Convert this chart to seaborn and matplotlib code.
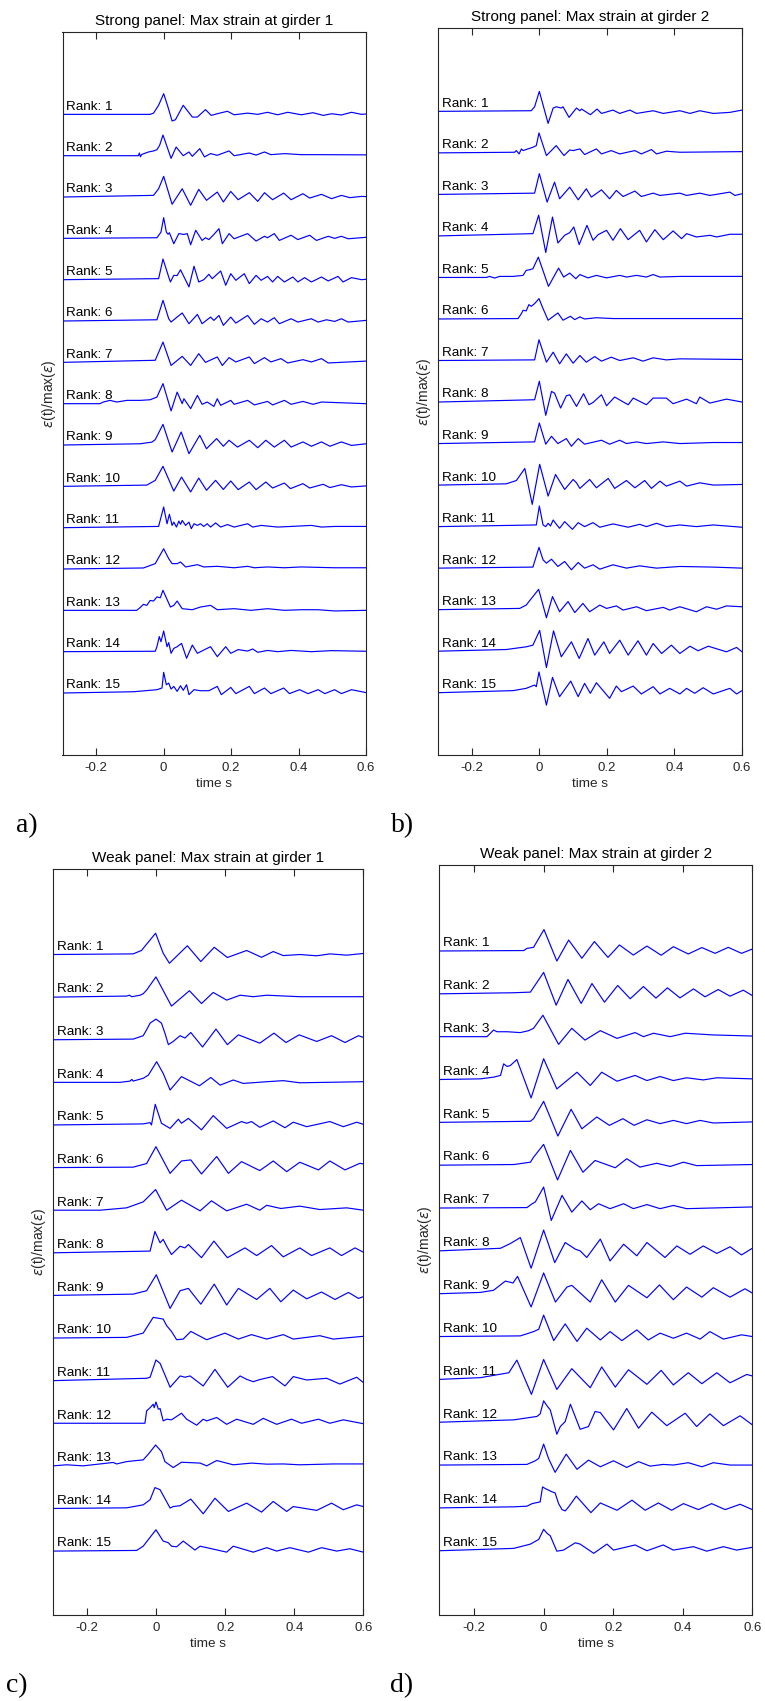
import matplotlib
matplotlib.use("Agg")
import matplotlib.pyplot as plt
import pandas as pd
import seaborn as sns

# Normalised strain traces eps(t)/max(eps) for the 15 highest-ranked events.
# Each trace is a list of (time in s, normalised strain) knots.

STRONG_G1 = [
    [(-0.3,0),(-0.04,0.0),(-0.03,0.06),(-0.015,0.44),(0,1.0),(0.012,0.4),(0.025,-0.32),(0.035,-0.26),(0.058,0.44),(0.085,-0.13),(0.10,-0.13),(0.124,0.23),(0.141,-0.05),(0.159,0.03),(0.189,0.15),(0.209,-0.02),(0.249,0.06),(0.279,0.0),(0.308,0.10),(0.338,-0.02),(0.368,0.10),(0.408,-0.02),(0.443,0.08),(0.473,-0.05),(0.498,0.03),(0.527,-0.03),(0.557,0.10),(0.587,0.0),(0.6,0.02)],
    [(-0.3,0),(-0.075,0.0),(-0.072,0.13),(-0.069,-0.05),(-0.065,0.06),(-0.045,0.18),(-0.03,0.23),(-0.02,0.29),(-0.012,0.5),(-0.002,1.0),(0.022,-0.13),(0.037,0.42),(0.058,0.0),(0.075,0.18),(0.085,-0.03),(0.107,0.34),(0.121,-0.06),(0.139,0.10),(0.159,0.02),(0.194,0.23),(0.209,0.0),(0.254,0.13),(0.274,0.03),(0.299,0.18),(0.318,0.05),(0.358,0.10),(0.408,0.05),(0.458,0.05),(0.6,0.04)],
    [(-0.3,0),(-0.03,0.08),(-0.015,0.4),(0,1.0),(0.025,-0.35),(0.055,0.40),(0.08,-0.40),(0.104,0.37),(0.127,-0.16),(0.159,0.24),(0.177,-0.24),(0.199,0.27),(0.221,-0.13),(0.254,0.21),(0.279,-0.21),(0.299,0.21),(0.323,-0.13),(0.356,0.19),(0.378,-0.13),(0.413,0.16),(0.433,-0.05),(0.468,0.13),(0.498,-0.08),(0.527,0.08),(0.552,-0.03),(0.587,0.03),(0.6,0.02)],
    [(-0.3,0),(-0.02,0.03),(-0.008,0.3),(0,1.0),(0.008,0.3),(0.013,0.2),(0.017,0.27),(0.030,-0.26),(0.045,0.23),(0.060,0.19),(0.070,0.23),(0.08,-0.31),(0.095,0.39),(0.114,-0.1),(0.124,0.03),(0.134,-0.06),(0.149,0.19),(0.164,0.47),(0.174,-0.26),(0.194,0.23),(0.209,-0.02),(0.249,0.23),(0.274,-0.13),(0.299,0.1),(0.308,0.03),(0.328,0.23),(0.343,-0.1),(0.378,0.15),(0.398,-0.06),(0.433,0.15),(0.453,-0.1),(0.488,0.1),(0.507,0.0),(0.527,0.1),(0.547,-0.02),(0.6,0.05)],
    [(-0.3,0),(-0.015,0.05),(-0.002,1.0),(0.015,0.13),(0.020,-0.11),(0.030,0.21),(0.040,0.2),(0.050,0.48),(0.075,-0.35),(0.090,0.65),(0.104,-0.11),(0.119,0.0),(0.134,0.26),(0.144,0.05),(0.169,0.42),(0.184,-0.27),(0.199,0.29),(0.214,-0.03),(0.239,0.29),(0.254,-0.19),(0.274,0.21),(0.289,-0.03),(0.308,0.16),(0.323,-0.11),(0.338,0.16),(0.358,-0.11),(0.383,0.13),(0.398,-0.11),(0.418,0.1),(0.438,-0.11),(0.468,0.13),(0.488,-0.06),(0.517,0.16),(0.532,-0.11),(0.557,0.1),(0.587,0.0),(0.6,0.02)],
    [(-0.3,0),(-0.02,0.06),(-0.002,1.0),(0.015,0.11),(0.022,-0.05),(0.030,0.06),(0.055,0.39),(0.075,-0.13),(0.1,0.32),(0.114,-0.13),(0.139,0.19),(0.149,0.03),(0.164,0.27),(0.177,-0.21),(0.199,0.19),(0.214,-0.1),(0.249,0.27),(0.269,-0.16),(0.289,0.11),(0.308,-0.05),(0.328,0.16),(0.343,-0.13),(0.378,0.11),(0.398,-0.05),(0.438,0.11),(0.458,-0.05),(0.483,0.06),(0.507,-0.02),(0.527,0.11),(0.547,-0.05),(0.6,0.03)],
    [(-0.3,0),(-0.025,0.1),(-0.002,0.98),(0.022,-0.15),(0.055,0.29),(0.08,-0.15),(0.104,0.42),(0.124,0.0),(0.159,0.26),(0.174,-0.15),(0.194,0.23),(0.214,0.02),(0.254,0.26),(0.269,-0.06),(0.299,0.23),(0.318,0.02),(0.348,0.18),(0.368,-0.03),(0.413,0.13),(0.438,0.02),(0.468,0.18),(0.488,-0.03),(0.6,0.06)],
    [(-0.3,0),(-0.189,0.0),(-0.179,0.08),(-0.159,0.16),(-0.139,0.08),(-0.109,0.16),(-0.070,0.16),(-0.040,0.19),(-0.020,0.32),(-0.002,0.97),(0.022,-0.35),(0.040,0.56),(0.055,0.0),(0.060,0.24),(0.080,-0.24),(0.100,0.4),(0.114,-0.03),(0.129,0.08),(0.149,-0.13),(0.159,0.24),(0.169,-0.08),(0.199,0.16),(0.209,-0.03),(0.249,0.16),(0.269,-0.06),(0.308,0.11),(0.323,-0.06),(0.358,0.16),(0.378,-0.03),(0.413,0.11),(0.443,-0.03),(0.468,0.08),(0.6,0.0)],
    [(-0.3,0),(-0.07,0.06),(-0.035,0.14),(-0.025,0.26),(-0.002,1.0),(0.025,-0.34),(0.052,0.63),(0.075,-0.42),(0.107,0.47),(0.127,-0.18),(0.157,0.31),(0.177,-0.06),(0.194,0.23),(0.219,-0.1),(0.254,0.23),(0.279,-0.13),(0.303,0.23),(0.328,-0.1),(0.358,0.23),(0.378,-0.1),(0.413,0.15),(0.438,-0.06),(0.468,0.15),(0.493,-0.06),(0.527,0.15),(0.557,-0.02),(0.6,0.06)],
    [(-0.3,0),(-0.05,0.06),(-0.025,0.29),(-0.002,0.97),(0.03,-0.23),(0.053,0.45),(0.08,-0.27),(0.104,0.4),(0.127,-0.19),(0.154,0.29),(0.177,-0.15),(0.199,0.26),(0.221,-0.16),(0.254,0.21),(0.274,-0.16),(0.303,0.21),(0.323,-0.08),(0.358,0.16),(0.376,-0.11),(0.413,0.13),(0.433,-0.08),(0.473,0.1),(0.493,-0.06),(0.527,0.08),(0.557,-0.03),(0.6,0.02)],
    [(-0.3,0),(-0.015,0.06),(0,1.0),(0.010,0.19),(0.017,0.65),(0.025,0.11),(0.030,0.27),(0.038,0.03),(0.045,0.32),(0.050,0.16),(0.055,0.35),(0.065,0.11),(0.075,0.27),(0.082,-0.05),(0.090,0.19),(0.100,0.11),(0.109,0.19),(0.119,0.06),(0.129,0.19),(0.139,0.03),(0.154,0.23),(0.169,0.03),(0.189,0.15),(0.209,0.03),(0.229,0.11),(0.249,0.19),(0.264,0.03),(0.289,0.11),(0.338,0.03),(0.378,0.06),(0.438,0.11),(0.468,0.03),(0.507,0.06),(0.6,0.06)],
    [(-0.3,0),(-0.06,0.05),(-0.025,0.26),(0,0.98),(0.015,0.5),(0.025,0.26),(0.040,0.26),(0.050,0.34),(0.065,0.1),(0.1,0.21),(0.119,0.1),(0.159,0.13),(0.209,0.06),(0.249,0.13),(0.269,0.06),(0.308,0.1),(0.358,0.06),(0.408,0.1),(0.507,0.06),(0.6,0.06)],
    [(-0.3,0),(-0.08,0.0),(-0.07,0.13),(-0.06,0.29),(-0.05,0.24),(-0.04,0.48),(-0.03,0.45),(-0.02,0.65),(-0.01,0.61),(-0.002,0.97),(0.020,0.16),(0.030,0.24),(0.040,0.45),(0.055,0.08),(0.085,0.03),(0.109,0.16),(0.139,0.24),(0.159,0.03),(0.209,0.08),(0.259,0.0),(0.308,0.08),(0.358,0.0),(0.408,0.03),(0.458,0.03),(0.507,-0.03),(0.6,0.0)],
    [(-0.3,0),(-0.025,0.02),(-0.020,0.24),(-0.013,0.73),(-0.008,0.48),(0,1.0),(0.010,0.24),(0.015,0.44),(0.022,-0.08),(0.030,0.16),(0.040,0.24),(0.053,0.4),(0.068,-0.32),(0.085,0.32),(0.1,-0.08),(0.119,0.08),(0.139,0.24),(0.159,-0.24),(0.184,0.24),(0.199,-0.08),(0.221,0.1),(0.249,0.03),(0.264,0.13),(0.279,-0.03),(0.308,0.06),(0.338,0.0),(0.378,0.06),(0.438,0.0),(0.498,0.05),(0.6,0.02)],
    [(-0.3,0),(-0.09,0.06),(-0.020,0.16),(-0.005,0.24),(0,1.0),(0.008,0.4),(0.015,0.48),(0.022,0.19),(0.030,0.32),(0.040,0.08),(0.050,0.35),(0.058,0.13),(0.068,0.4),(0.075,-0.08),(0.090,0.16),(0.109,0.11),(0.134,0.11),(0.159,0.32),(0.171,-0.08),(0.199,0.27),(0.214,-0.03),(0.254,0.32),(0.269,-0.03),(0.299,0.24),(0.318,-0.03),(0.356,0.24),(0.373,-0.03),(0.403,0.16),(0.428,-0.03),(0.458,0.16),(0.478,-0.03),(0.507,0.16),(0.527,-0.03),(0.557,0.16),(0.6,0.02)],
]

STRONG_G2 = [
    [(-0.3,0),(-0.024,0.03),(-0.014,0.22),(0,0.96),(0.026,-0.58),(0.041,0.16),(0.050,0.22),(0.065,0.16),(0.070,0.22),(0.088,-0.29),(0.110,0.16),(0.120,0.03),(0.125,0.11),(0.151,-0.16),(0.171,0.11),(0.184,-0.1),(0.218,0.06),(0.238,-0.1),(0.268,0.06),(0.288,-0.1),(0.337,0.03),(0.367,-0.1),(0.416,0.03),(0.446,-0.1),(0.475,0.03),(0.515,-0.1),(0.564,-0.05),(0.6,0.06)],
    [(-0.3,0),(-0.073,0.03),(-0.068,0.11),(-0.060,-0.05),(-0.053,0.19),(-0.048,0.11),(-0.034,0.19),(-0.019,0.27),(-0.009,0.35),(-0.001,0.96),(0.021,-0.13),(0.050,0.35),(0.073,-0.13),(0.090,0.14),(0.100,0.11),(0.120,0.19),(0.134,-0.08),(0.169,0.19),(0.184,-0.05),(0.213,0.11),(0.238,-0.05),(0.283,0.11),(0.302,-0.05),(0.332,0.16),(0.347,-0.05),(0.376,0.08),(0.416,0.03),(0.6,0.06)],
    [(-0.3,0),(-0.014,0.06),(0,1.0),(0.023,-0.37),(0.045,0.59),(0.060,-0.21),(0.090,0.35),(0.115,-0.26),(0.139,0.27),(0.154,-0.13),(0.184,0.22),(0.208,-0.21),(0.228,0.19),(0.248,-0.1),(0.283,0.16),(0.302,-0.1),(0.337,0.06),(0.357,-0.05),(0.416,0.06),(0.436,-0.05),(0.475,0.06),(0.505,-0.05),(0.564,0.11),(0.579,-0.05),(0.6,0.03)],
    [(-0.3,0),(-0.019,0.11),(-0.002,1.0),(0.019,-0.8),(0.039,0.91),(0.055,-0.34),(0.075,0.03),(0.090,0.16),(0.102,0.43),(0.118,-0.42),(0.141,0.51),(0.159,-0.21),(0.174,0.06),(0.199,0.27),(0.218,-0.21),(0.240,0.35),(0.263,-0.18),(0.297,0.27),(0.317,-0.29),(0.342,0.30),(0.367,-0.18),(0.396,0.24),(0.421,-0.13),(0.436,0.11),(0.465,-0.05),(0.505,0.03),(0.525,-0.05),(0.564,0.08),(0.6,0.08)],
    [(-0.3,0),(-0.157,0.0),(-0.147,0.05),(-0.132,-0.03),(-0.118,0.05),(-0.078,0.05),(-0.048,0.1),(-0.039,0.34),(-0.029,0.37),(-0.019,0.42),(-0.003,0.98),(0.027,-0.43),(0.057,0.45),(0.072,0.02),(0.090,0.21),(0.108,-0.06),(0.120,0.14),(0.144,-0.02),(0.169,0.1),(0.199,-0.02),(0.238,0.1),(0.258,0.02),(0.288,0.1),(0.317,0.02),(0.337,0.14),(0.357,0.02),(0.416,0.05),(0.6,0.05)],
    [(-0.3,0),(-0.063,0.02),(-0.053,0.26),(-0.048,0.42),(-0.039,0.39),(-0.031,0.69),(-0.024,0.61),(-0.014,0.74),(-0.001,0.98),(0.011,0.5),(0.026,-0.06),(0.055,0.29),(0.070,-0.06),(0.092,0.13),(0.105,-0.03),(0.120,0.1),(0.134,0.0),(0.169,0.06),(0.218,0.02),(0.6,0.02)],
    [(-0.3,0),(-0.014,0.03),(-0.001,1.0),(0.021,-0.08),(0.041,0.4),(0.060,-0.16),(0.080,0.32),(0.100,-0.13),(0.120,0.24),(0.139,-0.08),(0.164,0.19),(0.184,-0.03),(0.213,0.16),(0.238,0.0),(0.278,0.13),(0.307,-0.03),(0.337,0.13),(0.376,0.03),(0.416,0.08),(0.6,0.05)],
    [(-0.3,0),(-0.014,0.11),(0,1.0),(0.019,-0.64),(0.036,0.51),(0.045,0.43),(0.063,-0.29),(0.080,0.3),(0.090,0.35),(0.110,-0.21),(0.131,0.4),(0.147,-0.13),(0.159,-0.02),(0.184,0.35),(0.199,-0.18),(0.223,0.24),(0.263,-0.13),(0.278,0.19),(0.317,-0.13),(0.337,0.19),(0.376,0.19),(0.396,-0.08),(0.436,0.14),(0.465,-0.08),(0.475,0.24),(0.505,-0.05),(0.554,0.14),(0.6,0.0)],
    [(-0.3,0),(-0.014,0.08),(0,0.99),(0.019,-0.03),(0.036,0.35),(0.055,0.0),(0.080,0.24),(0.095,-0.13),(0.115,0.24),(0.134,-0.03),(0.184,0.16),(0.208,-0.03),(0.238,0.16),(0.258,0.0),(0.288,0.08),(0.317,0.0),(0.367,0.08),(0.416,0.0),(0.515,0.05),(0.6,0.05)],
    [(-0.3,0),(-0.098,0.06),(-0.068,0.22),(-0.043,0.8),(-0.021,-0.93),(0.001,1.0),(0.026,-0.53),(0.048,0.51),(0.075,-0.21),(0.100,0.27),(0.110,0.11),(0.120,-0.16),(0.149,0.27),(0.169,-0.13),(0.204,0.32),(0.223,-0.16),(0.258,0.22),(0.283,-0.13),(0.312,0.22),(0.332,-0.16),(0.357,0.19),(0.376,-0.05),(0.416,0.19),(0.436,-0.05),(0.475,0.11),(0.515,0.0),(0.6,0.03)],
    [(-0.3,0),(-0.009,0.08),(0,0.99),(0.011,0.08),(0.019,0.0),(0.026,0.16),(0.033,0.03),(0.041,0.32),(0.048,0.16),(0.060,-0.08),(0.075,0.24),(0.098,-0.13),(0.115,0.19),(0.134,0.0),(0.159,0.19),(0.179,-0.03),(0.218,0.13),(0.263,-0.03),(0.297,0.11),(0.317,0.0),(0.347,0.16),(0.376,0.0),(0.416,0.08),(0.465,0.0),(0.515,0.08),(0.6,-0.03)],
    [(-0.3,0),(-0.019,0.05),(-0.001,1.0),(0.011,0.4),(0.021,0.24),(0.036,0.43),(0.055,0.08),(0.075,0.32),(0.095,-0.08),(0.115,0.27),(0.134,0.0),(0.159,0.16),(0.179,-0.05),(0.218,0.16),(0.258,0.0),(0.297,0.11),(0.347,0.0),(0.416,0.08),(0.515,0.05),(0.6,0.0)],
    [(-0.3,0),(-0.058,0.06),(-0.039,0.22),(-0.019,0.63),(-0.002,0.98),(0.021,-0.39),(0.039,0.63),(0.060,-0.1),(0.085,0.39),(0.105,-0.14),(0.129,0.3),(0.149,-0.1),(0.179,0.22),(0.199,0.06),(0.228,0.18),(0.248,-0.02),(0.288,0.14),(0.317,-0.05),(0.367,0.11),(0.386,-0.02),(0.416,0.14),(0.465,-0.1),(0.495,0.14),(0.525,0.02),(0.554,0.18),(0.6,0.14)],
    [(-0.3,0),(-0.098,0.08),(-0.039,0.21),(-0.019,0.29),(0.001,1.0),(0.021,-0.79),(0.042,0.98),(0.065,-0.27),(0.095,0.45),(0.118,-0.35),(0.144,0.61),(0.164,-0.19),(0.191,0.45),(0.208,-0.11),(0.238,0.53),(0.263,-0.19),(0.292,0.5),(0.317,-0.19),(0.337,0.37),(0.362,-0.11),(0.391,0.29),(0.416,-0.11),(0.446,0.24),(0.470,0.02),(0.500,0.24),(0.554,-0.03),(0.584,0.18),(0.6,-0.03)],
    [(-0.3,0),(-0.078,0.1),(-0.039,0.21),(-0.014,0.37),(-0.009,0.29),(-0.001,1.0),(0.021,-0.6),(0.039,0.74),(0.060,-0.19),(0.093,0.56),(0.115,-0.19),(0.134,0.45),(0.151,-0.03),(0.169,0.48),(0.208,-0.27),(0.228,0.32),(0.243,0.05),(0.278,0.32),(0.302,-0.06),(0.337,0.29),(0.357,-0.06),(0.386,0.21),(0.416,-0.06),(0.436,0.21),(0.460,-0.03),(0.485,0.24),(0.515,-0.06),(0.564,0.21),(0.584,-0.06),(0.6,0.1)],
]

WEAK_G1 = [
    [(-0.3,0),(-0.067,0.03),(-0.043,0.19),(-0.002,1.0),(0.020,0.06),(0.038,-0.41),(0.090,0.41),(0.129,-0.33),(0.168,0.34),(0.206,-0.14),(0.262,0.19),(0.305,-0.13),(0.339,0.14),(0.368,-0.05),(0.416,0.0),(0.465,-0.06),(0.503,0.03),(0.552,-0.03),(0.6,0.05)],
    [(-0.3,0),(-0.086,0.05),(-0.078,0.09),(-0.071,0.02),(-0.047,0.09),(-0.038,0.16),(-0.028,0.33),(-0.001,0.95),(0.044,-0.42),(0.096,0.3),(0.131,-0.3),(0.165,0.22),(0.204,-0.14),(0.243,0.09),(0.281,0.02),(0.320,0.09),(0.416,0.02),(0.6,0.02)],
    [(-0.3,0),(-0.067,0.03),(-0.038,0.19),(-0.028,0.47),(-0.018,0.78),(-0.001,0.97),(0.015,0.78),(0.025,0.31),(0.035,-0.23),(0.049,-0.08),(0.069,0.19),(0.083,0.08),(0.100,0.34),(0.134,-0.34),(0.173,0.5),(0.206,-0.23),(0.238,0.23),(0.300,-0.16),(0.341,0.31),(0.376,-0.13),(0.414,0.23),(0.465,-0.08),(0.508,0.19),(0.547,-0.13),(0.586,0.19),(0.6,0.11)],
    [(-0.3,0),(-0.105,0.0),(-0.076,0.06),(-0.071,0.14),(-0.067,0.06),(-0.038,0.19),(-0.023,0.34),(0.001,0.97),(0.020,0.42),(0.040,-0.36),(0.073,0.27),(0.125,-0.16),(0.158,0.23),(0.185,-0.13),(0.223,0.11),(0.252,-0.05),(0.320,0.03),(0.368,0.08),(0.416,-0.02),(0.6,0.03)],
    [(-0.3,0),(-0.038,0.05),(-0.018,0.11),(-0.014,0.0),(-0.003,0.97),(0.015,0.08),(0.040,-0.16),(0.064,0.27),(0.073,0.08),(0.093,0.31),(0.131,-0.23),(0.165,0.44),(0.204,-0.16),(0.247,0.16),(0.262,0.08),(0.276,0.16),(0.300,-0.11),(0.339,0.19),(0.373,-0.13),(0.397,0.13),(0.436,-0.08),(0.503,0.16),(0.542,-0.08),(0.581,0.13),(0.6,0.03)],
    [(-0.3,0),(-0.067,0.02),(-0.028,0.19),(-0.001,0.98),(0.040,-0.27),(0.073,0.31),(0.100,0.36),(0.131,-0.3),(0.175,0.52),(0.209,-0.27),(0.247,0.28),(0.300,-0.14),(0.339,0.31),(0.378,-0.19),(0.416,0.25),(0.470,-0.11),(0.503,0.31),(0.547,-0.11),(0.590,0.2),(0.6,0.17)],
    [(-0.3,0),(-0.163,0.0),(-0.086,0.11),(-0.038,0.39),(-0.002,0.97),(0.030,0.0),(0.073,0.47),(0.127,-0.03),(0.160,0.44),(0.204,-0.03),(0.262,0.28),(0.300,0.0),(0.320,0.23),(0.361,0.08),(0.416,0.19),(0.474,0.03),(0.552,0.11),(0.6,0.0)],
    [(-0.3,0),(-0.018,0.08),(-0.004,1.0),(0.011,0.47),(0.020,0.63),(0.030,0.31),(0.044,-0.08),(0.069,0.31),(0.083,0.23),(0.093,0.39),(0.131,-0.23),(0.167,0.55),(0.206,-0.23),(0.257,0.23),(0.291,-0.13),(0.334,0.34),(0.368,-0.19),(0.416,0.23),(0.450,-0.13),(0.503,0.23),(0.537,-0.13),(0.576,0.23),(0.6,0.03)],
    [(-0.3,0),(-0.067,0.06),(-0.028,0.22),(0,0.97),(0.040,-0.61),(0.069,0.22),(0.093,0.33),(0.129,-0.41),(0.168,0.53),(0.204,-0.45),(0.238,0.33),(0.291,-0.19),(0.329,0.33),(0.361,-0.3),(0.397,0.25),(0.436,-0.16),(0.479,0.16),(0.518,-0.19),(0.557,0.14),(0.586,-0.14),(0.6,-0.06)],
    [(-0.3,0),(-0.086,0.03),(-0.038,0.23),(-0.009,0.97),(0.020,0.89),(0.030,0.58),(0.044,0.31),(0.059,-0.08),(0.078,-0.05),(0.100,0.31),(0.146,-0.08),(0.199,0.23),(0.238,-0.05),(0.276,0.16),(0.320,-0.05),(0.368,0.16),(0.397,-0.05),(0.474,0.11),(0.513,-0.05),(0.6,0.08)],
    [(-0.3,0),(-0.028,0.11),(-0.018,0.16),(-0.001,0.97),(0.011,0.81),(0.040,-0.31),(0.069,0.22),(0.083,0.16),(0.098,0.22),(0.136,-0.25),(0.170,0.53),(0.207,-0.31),(0.243,0.22),(0.262,0.06),(0.281,-0.05),(0.300,0.05),(0.337,0.19),(0.373,-0.25),(0.397,0.19),(0.436,0.03),(0.494,0.11),(0.532,-0.16),(0.581,0.16),(0.6,-0.09)],
    [(-0.3,0),(-0.033,0.0),(-0.028,0.58),(-0.018,0.73),(-0.009,0.89),(-0.006,0.73),(-0.001,1.0),(0.006,0.66),(0.011,0.69),(0.020,0.11),(0.030,0.19),(0.044,0.16),(0.073,0.47),(0.088,0.19),(0.117,-0.09),(0.136,0.19),(0.146,0.11),(0.175,0.27),(0.204,-0.05),(0.233,0.19),(0.281,-0.05),(0.310,0.23),(0.349,-0.05),(0.392,0.19),(0.421,0.0),(0.470,0.19),(0.503,0.0),(0.542,0.16),(0.6,-0.02)],
    [(-0.3,0),(-0.26,0.05),(-0.212,0.0),(-0.163,0.09),(-0.125,0.16),(-0.115,0.09),(-0.086,0.2),(-0.057,0.25),(-0.038,0.28),(-0.023,0.55),(-0.002,0.98),(0.015,0.67),(0.025,0.2),(0.049,-0.08),(0.073,0.17),(0.127,0.13),(0.146,0.0),(0.175,0.25),(0.223,0.05),(0.276,0.13),(0.320,0.08),(0.368,0.09),(0.416,0.05),(0.513,0.09),(0.6,0.09)],
    [(-0.3,0),(-0.086,0.03),(-0.038,0.17),(-0.018,0.41),(-0.004,0.98),(0.011,0.88),(0.040,0.02),(0.049,0.09),(0.069,0.13),(0.100,0.44),(0.136,-0.25),(0.170,0.48),(0.209,-0.14),(0.262,0.25),(0.305,-0.17),(0.339,0.33),(0.378,-0.14),(0.397,0.09),(0.465,-0.09),(0.508,0.25),(0.542,-0.06),(0.581,0.17),(0.6,0.09)],
    [(-0.3,0),(-0.057,0.03),(-0.038,0.23),(-0.001,1.0),(0.020,0.47),(0.035,0.39),(0.044,0.23),(0.059,0.2),(0.078,0.47),(0.112,0.05),(0.127,0.23),(0.204,-0.05),(0.223,0.23),(0.281,-0.05),(0.320,0.16),(0.349,0.0),(0.387,0.16),(0.441,-0.05),(0.479,0.16),(0.523,0.0),(0.561,0.11),(0.6,-0.05)],
]

WEAK_G2 = [
    [(-0.3,0),(-0.057,0.02),(-0.048,0.12),(-0.029,0.17),(0.001,1.0),(0.038,-0.47),(0.072,0.51),(0.110,-0.34),(0.146,0.44),(0.185,-0.3),(0.218,0.28),(0.258,-0.19),(0.297,0.23),(0.338,-0.2),(0.373,0.2),(0.416,-0.14),(0.455,0.16),(0.493,-0.11),(0.531,0.17),(0.569,-0.11),(0.6,0.09)],
    [(-0.3,0),(-0.086,0.05),(-0.038,0.08),(0,1.0),(0.036,-0.53),(0.070,0.67),(0.108,-0.45),(0.139,0.48),(0.175,-0.39),(0.213,0.39),(0.249,-0.23),(0.287,0.34),(0.323,-0.2),(0.356,0.28),(0.392,-0.19),(0.431,0.23),(0.464,-0.14),(0.502,0.2),(0.536,-0.11),(0.574,0.17),(0.6,-0.08)],
    [(-0.3,0),(-0.163,0.0),(-0.153,0.16),(-0.144,0.31),(-0.134,0.23),(-0.105,0.23),(-0.067,0.19),(-0.043,0.28),(-0.029,0.39),(-0.002,1.0),(0.043,-0.36),(0.081,0.39),(0.119,-0.16),(0.163,0.28),(0.211,-0.08),(0.263,0.19),(0.287,0.0),(0.316,0.16),(0.364,0.0),(0.407,0.16),(0.488,0.08),(0.6,0.03)],
    [(-0.3,0),(-0.182,0.03),(-0.144,0.11),(-0.124,0.19),(-0.115,0.73),(-0.105,0.61),(-0.096,0.65),(-0.077,0.93),(-0.036,-0.86),(0,0.97),(0.038,-0.44),(0.096,0.34),(0.134,-0.28),(0.167,0.34),(0.211,-0.08),(0.263,0.19),(0.297,-0.05),(0.335,0.14),(0.373,-0.05),(0.411,0.08),(0.459,-0.02),(0.498,0.08),(0.6,0.03)],
    [(-0.3,0),(-0.038,0.05),(-0.029,0.17),(0,0.98),(0.041,-0.64),(0.079,0.61),(0.110,-0.3),(0.153,0.25),(0.189,-0.14),(0.228,0.17),(0.260,-0.14),(0.297,0.12),(0.335,-0.06),(0.373,0.09),(0.411,-0.06),(0.450,0.09),(0.488,-0.03),(0.6,0.02)],
    [(-0.3,0),(-0.086,0.03),(-0.038,0.14),(-0.029,0.37),(0,0.97),(0.040,-0.69),(0.077,0.69),(0.113,-0.33),(0.148,0.22),(0.206,-0.12),(0.239,0.3),(0.277,-0.09),(0.325,0.09),(0.364,-0.06),(0.402,0.14),(0.440,-0.02),(0.6,0.03)],
    [(-0.3,0),(-0.048,0.02),(-0.033,0.2),(-0.024,0.28),(0,0.98),(0.022,-0.58),(0.053,0.59),(0.081,-0.19),(0.110,0.33),(0.134,-0.08),(0.158,0.2),(0.191,-0.03),(0.230,0.2),(0.258,-0.03),(0.297,0.16),(0.335,-0.03),(0.373,0.12),(0.411,-0.03),(0.6,0.05)],
    [(-0.3,0),(-0.124,0.12),(-0.096,0.34),(-0.067,0.62),(-0.036,-0.81),(0,0.97),(0.032,-0.55),(0.062,0.39),(0.091,0.08),(0.105,0.0),(0.124,-0.31),(0.163,0.55),(0.191,-0.47),(0.230,0.31),(0.268,-0.23),(0.297,0.39),(0.349,-0.31),(0.383,0.23),(0.421,-0.16),(0.459,0.23),(0.498,-0.12),(0.536,0.19),(0.569,-0.19),(0.6,0.12)],
    [(-0.3,0),(-0.182,0.06),(-0.144,0.16),(-0.110,0.59),(-0.088,0.5),(-0.075,0.81),(-0.036,-0.62),(0,0.97),(0.034,-0.39),(0.067,0.31),(0.081,0.39),(0.134,-0.39),(0.167,0.65),(0.206,-0.39),(0.244,0.39),(0.297,-0.19),(0.333,0.41),(0.373,-0.28),(0.411,0.31),(0.455,-0.16),(0.488,0.28),(0.536,-0.16),(0.579,0.23),(0.6,0.03)],
    [(-0.3,0),(-0.067,0.03),(-0.029,0.23),(-0.014,0.34),(0,1.0),(0.029,-0.19),(0.062,0.59),(0.096,-0.23),(0.124,0.39),(0.163,-0.16),(0.191,0.23),(0.225,-0.19),(0.268,0.31),(0.301,-0.16),(0.335,0.16),(0.373,-0.08),(0.411,0.16),(0.450,-0.12),(0.478,0.23),(0.517,-0.12),(0.569,0.08),(0.6,0.0)],
    [(-0.3,0),(-0.182,0.08),(-0.100,0.31),(-0.077,0.9),(-0.035,-0.7),(0,0.93),(0.038,-0.47),(0.081,0.5),(0.134,-0.39),(0.167,0.58),(0.206,-0.36),(0.244,0.45),(0.297,-0.23),(0.338,0.42),(0.373,-0.26),(0.416,0.31),(0.455,-0.2),(0.498,0.31),(0.536,-0.16),(0.584,0.23),(0.6,0.16)],
    [(-0.3,0),(-0.086,0.11),(-0.019,0.27),(-0.010,0.39),(0,1.0),(0.010,0.76),(0.019,0.58),(0.038,-0.56),(0.048,-0.2),(0.062,0.03),(0.077,0.84),(0.105,-0.33),(0.129,-0.2),(0.148,0.5),(0.163,0.45),(0.201,-0.36),(0.239,0.64),(0.273,-0.28),(0.311,0.47),(0.354,-0.16),(0.407,0.42),(0.440,-0.2),(0.478,0.39),(0.517,-0.16),(0.565,0.3),(0.6,-0.12)],
    [(-0.3,0),(-0.048,0.03),(-0.024,0.2),(-0.014,0.31),(0,0.98),(0.014,0.31),(0.033,-0.34),(0.065,0.51),(0.096,-0.2),(0.129,0.23),(0.163,-0.08),(0.201,0.2),(0.239,-0.11),(0.273,0.16),(0.306,-0.05),(0.344,0.03),(0.373,0.0),(0.416,0.11),(0.455,-0.08),(0.488,0.11),(0.536,0.0),(0.6,0.0)],
    [(-0.3,0),(-0.086,0.05),(-0.048,0.08),(-0.033,0.2),(-0.010,0.28),(-0.003,0.98),(0.005,0.9),(0.014,0.83),(0.024,0.75),(0.033,0.7),(0.043,0.2),(0.053,-0.08),(0.062,-0.14),(0.072,0.05),(0.094,0.55),(0.136,-0.22),(0.163,0.23),(0.211,-0.11),(0.254,0.36),(0.292,-0.11),(0.330,0.23),(0.368,-0.11),(0.402,0.2),(0.445,-0.08),(0.483,0.2),(0.522,-0.08),(0.565,0.17),(0.6,-0.08)],
    [(-0.3,0),(-0.086,0.11),(-0.038,0.31),(-0.014,0.53),(0,1.0),(0.010,0.81),(0.019,0.7),(0.038,-0.02),(0.057,0.03),(0.091,0.37),(0.105,0.31),(0.144,-0.12),(0.182,0.31),(0.201,0.03),(0.263,0.27),(0.297,0.0),(0.344,0.27),(0.373,0.03),(0.431,0.19),(0.469,-0.02),(0.517,0.19),(0.555,0.03),(0.6,0.16)],
]

PANEL_TRACES = [STRONG_G1, STRONG_G2, WEAK_G1, WEAK_G2]
PANEL_TITLES = [
    "Strong panel: Max strain at girder 1",
    "Strong panel: Max strain at girder 2",
    "Weak panel: Max strain at girder 1",
    "Weak panel: Max strain at girder 2",
]
PANEL_TAGS = ["a)", "b)", "c)", "d)"]
X_TICKS = [-0.2, 0, 0.2, 0.4, 0.6]
X_TICK_LABELS = ["-0.2", "0", "0.2", "0.4", "0.6"]
RANK_STEP = 2.0   # vertical offset between consecutive ranks

# ---------------------------------------------------------------- layout
W, H = 765, 1701
# axes boxes in pixels: left, top, right, bottom
BOXES = [
    (62.5, 31.7, 366.0, 755.0),
    (438.0, 28.3, 742.0, 755.0),
    (52.8, 869.3, 363.3, 1615.0),
    (439.3, 865.3, 752.3, 1615.0),
]
TAG_POS = [(16, 826), (391, 826), (6, 1686), (390, 1686)]

sns.set_theme(style="white")
plt.rcParams["font.family"] = ["Liberation Sans", "DejaVu Sans"]
plt.rcParams["mathtext.fontset"] = "dejavusans"
plt.rcParams["axes.edgecolor"] = "#262626"
plt.rcParams["axes.linewidth"] = 0.8

fig = plt.figure(figsize=(W / 100, H / 100), dpi=100)
ink = "#262626"

for p, traces in enumerate(PANEL_TRACES):
    l, t, r, b = BOXES[p]
    ax = fig.add_axes([l / W, 1 - b / H, (r - l) / W, (b - t) / H])

    rows = []
    for k, trace in enumerate(traces, start=1):
        for tt, vv in trace:
            rows.append({"rank": k, "time": tt, "y": vv - RANK_STEP * k})
    df = pd.DataFrame(rows)
    sns.lineplot(data=df, x="time", y="y", units="rank", estimator=None,
                 sort=False, color="#0000ff", linewidth=0.85, legend=False,
                 solid_joinstyle="round", solid_capstyle="round", ax=ax)

    for k in range(1, len(traces) + 1):
        ax.text(-0.289, -RANK_STEP * k + 0.22, f"Rank: {k}", ha="left",
                va="baseline", fontsize=9.7, color="black")

    ax.set_xlim(-0.3, 0.6)
    ax.set_ylim(-16.5 * RANK_STEP, 1.0 * RANK_STEP)
    ax.set_xticks(X_TICKS)
    ax.set_xticklabels(X_TICK_LABELS)
    ax.set_yticks([])
    ax.tick_params(axis="x", direction="in", top=True, bottom=True, length=5,
                   width=0.8, color=ink, labelsize=9.5, labelcolor=ink, pad=5)
    ax.set_xlabel("time s", fontsize=9.7, color=ink, labelpad=3)
    ax.set_ylabel("")
    ax.text(-14 / (r - l), 0.5, r"$\epsilon$(t)/max($\epsilon$)", rotation=90,
            transform=ax.transAxes, ha="center", va="center", fontsize=10,
            color=ink)
    ax.set_title(PANEL_TITLES[p], fontsize=11, color="black", pad=5)
    for s in ax.spines.values():
        s.set_visible(True)
        s.set_color(ink)

    tx, ty = TAG_POS[p]
    fig.text(tx / W, 1 - ty / H, PANEL_TAGS[p], ha="left", va="center",
             fontsize=20, family=["Liberation Serif", "DejaVu Serif"],
             color="black")

fig.savefig("out.png", dpi=100, facecolor="white")
